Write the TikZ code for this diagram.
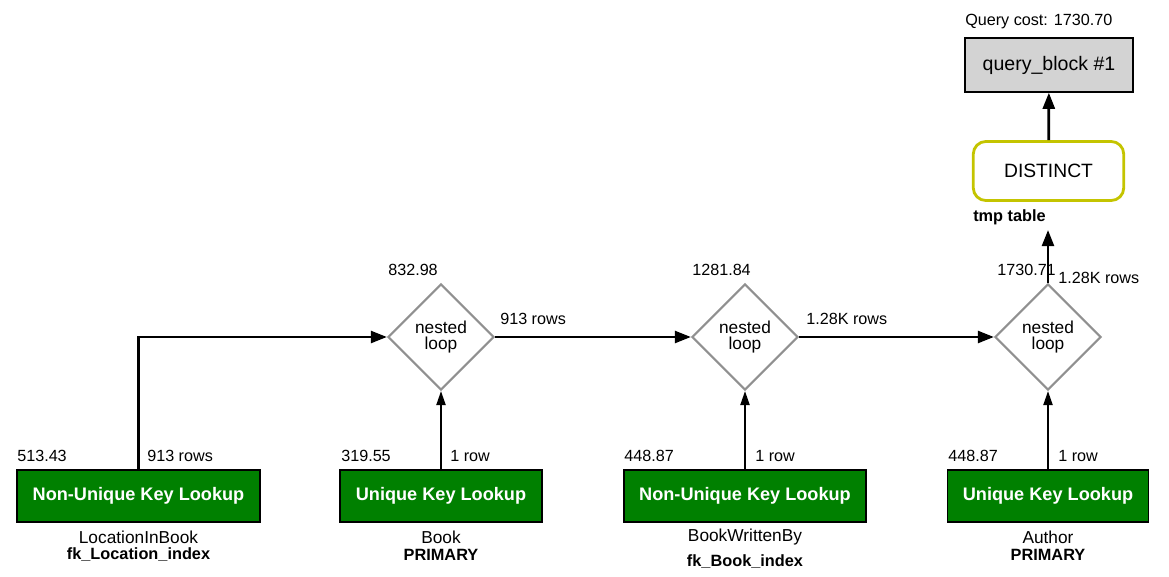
\documentclass[tikz,border=0pt]{standalone}
\usepackage{fontspec}
\setmainfont{Liberation Sans}
\usetikzlibrary{shapes.geometric,arrows.meta}
\definecolor{lookupgreen}{RGB}{0,128,0}
\definecolor{nlgray}{RGB}{144,144,144}
\definecolor{distinctyellow}{RGB}{196,196,0}
\definecolor{blockgray}{RGB}{211,211,211}

\begin{document}
\begin{tikzpicture}
  [x=0.025cm,y=-0.025cm,
   lookup/.style={draw=black,line width=0.9pt,fill=lookupgreen,text=white,
     font=\fontsize{12.9}{15}\selectfont\bfseries,minimum height=37pt,inner sep=0pt},
   nl/.style={diamond,draw=nlgray,line width=1.5pt,minimum size=75.4pt,inner sep=0pt,
     align=center,font=\fontsize{12.3}{11}\selectfont},
   lbl/.style={inner sep=0pt,font=\fontsize{11.5}{13}\selectfont},
   tbl/.style={inner sep=0pt,font=\fontsize{12.3}{14}\selectfont},
   idx/.style={inner sep=0pt,font=\fontsize{11.6}{14}\selectfont\bfseries},
   flow/.style={-{Triangle[length=11.5pt,width=8.5pt]},line width=2pt},
   feed/.style={-{Triangle[length=10pt,width=6.5pt]},line width=1.3pt}]
  \useasboundingbox (0,0) rectangle (1169,577);

  % table accesses
  \node[lookup,minimum width=172.8pt] (lk1) at (138.5,496) {Non-Unique Key Lookup};
  \node[lookup,minimum width=143.7pt] (lk2) at (441,496) {Unique Key Lookup};
  \node[lookup,minimum width=172pt] (lk3) at (745,496) {Non-Unique Key Lookup};
  \node[lookup,minimum width=143pt] (lk4) at (1048,496) {Unique Key Lookup};

  % joins
  \node[nl] (nl1) at (441,337) {nested\\loop};
  \node[nl] (nl2) at (745,337) {nested\\loop};
  \node[nl] (nl3) at (1048,337) {nested\\loop};

  \node[draw=distinctyellow,line width=2pt,rounded corners=9pt,minimum width=107pt,
    minimum height=42pt,font=\fontsize{13.7}{16}\selectfont] (dst) at (1048.5,171) {DISTINCT};
  \node[draw=black,line width=1pt,fill=blockgray,minimum width=119.5pt,minimum height=38.4pt,
    font=\fontsize{13.9}{16}\selectfont] (qb) at (1049,65) {query\_block \#1};

  % costs and rows
  \node[lbl,anchor=west] (cost) at (965,22) {Query cost: 1730.70};
  \node[idx,anchor=west] (tmp) at (973,217) {tmp table};
  \coordinate (tmpin) at (1048,230);
  \node[lbl,anchor=west] (c1) at (17,456) {513.43};
  \node[lbl,anchor=west] (r1) at (147,456) {913 rows};
  \node[lbl,anchor=west] (c2) at (341,456) {319.55};
  \node[lbl,anchor=west] (r2) at (450,456) {1 row};
  \node[lbl,anchor=west] (c3) at (624,456) {448.87};
  \node[lbl,anchor=west] (r3) at (755,456) {1 row};
  \node[lbl,anchor=west] (c4) at (948,456) {448.87};
  \node[lbl,anchor=west] (r4) at (1058,456) {1 row};
  \node[lbl,anchor=west] (j1) at (388,270) {832.98};
  \node[lbl,anchor=west] (jr1) at (500,319) {913 rows};
  \node[lbl,anchor=west] (j2) at (692,270) {1281.84};
  \node[lbl,anchor=west] (jr2) at (806,319) {1.28K rows};
  \node[lbl,anchor=west] (j3) at (997,270) {1730.71};
  \node[lbl,anchor=west] (jr3) at (1058,278) {1.28K rows};

  % tables and keys
  \node[tbl] (t1) at (138.5,537) {LocationInBook};
  \node[idx] (k1) at (138.5,555) {fk\_Location\_index};
  \node[tbl] (t2) at (441,537) {Book};
  \node[idx] (k2) at (441,555) {PRIMARY};
  \node[tbl] (t3) at (745,537) {BookWrittenBy};
  \node[idx] (k3) at (745,562) {fk\_Book\_index};
  \node[tbl] (t4) at (1048,537) {Author};
  \node[idx] (k4) at (1048,555) {PRIMARY};

  \draw[flow] (lk1.north) |- (nl1.west);
  \foreach \from/\to in {nl1/nl2,nl2/nl3,dst/qb}
    \draw[flow] (\from) -- (\to);
  \draw[flow] (nl3.north) -- (tmpin);
  \foreach \from/\to in {lk2/nl1,lk3/nl2,lk4/nl3}
    \draw[feed] (\from) -- (\to);
\end{tikzpicture}
\end{document}
